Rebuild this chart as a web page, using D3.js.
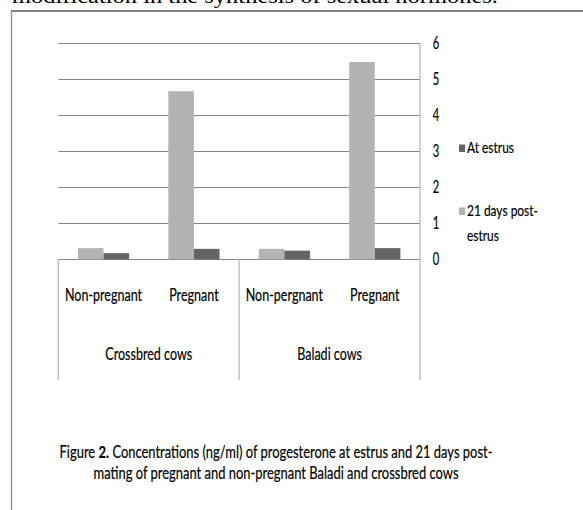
<!DOCTYPE html>
<html>
<head>
<meta charset="utf-8">
<script src="https://cdn.jsdelivr.net/npm/d3@7/dist/d3.min.js"></script>
<style>
  html, body { margin: 0; padding: 0; background: #fff; }
  svg { display: block; }
  text { font-family: Lato, "Open Sans", sans-serif; fill: #000; stroke: #000; stroke-width: 0.2px; }
</style>
</head>
<body>
<svg id="chart" width="583" height="510"></svg>
<script>
// data
const groups = ["Crossbred cows", "Baladi cows"];
const categories = ["Non-pregnant", "Pregnant", "Non-pergnant", "Pregnant"];
const categoryGroup = [0, 0, 1, 1];
const seriesNames = ["21 days post-estrus", "At estrus"];
const postEstrus = [0.31, 4.67, 0.29, 5.48];
const atEstrus = [0.17, 0.29, 0.24, 0.31];
const yTicks = [0, 1, 2, 3, 4, 5, 6];
const captionLines = [
  "Figure 2. Concentrations (ng/ml) of progesterone at estrus and 21 days post-",
  "mating of pregnant and non-pregnant Baladi and crossbred cows"
];
const pageText = "modification in the synthesis of sexual hormones.";

const colors = { "21 days post-estrus": "#b3b3b3", "At estrus": "#646464" };
const SX = 0.76; // horizontal squeeze of the scanned text

const svg = d3.select("#chart");
svg.append("rect").attr("width", 583).attr("height", 510).attr("fill", "#fff");

// cut-off line of body text above the figure frame
svg.append("text")
  .attr("x", 12).attr("y", 2.5)
  .attr("textLength", 486).attr("lengthAdjust", "spacingAndGlyphs")
  .style("font-family", "'Liberation Serif', serif")
  .style("font-size", "21px")
  .style("stroke", "none")
  .text(pageText);

// frame (top + left edges visible)
svg.append("line").attr("x1", 11).attr("x2", 583).attr("y1", 11).attr("y2", 11)
  .attr("stroke", "#7f7f7f").attr("stroke-width", 2);
svg.append("line").attr("x1", 11.5).attr("x2", 11.5).attr("y1", 11).attr("y2", 510)
  .attr("stroke", "#8c8c8c").attr("stroke-width", 1.3);

const plot = { left: 58.3, right: 420, top: 43.3, bottom: 259.3, catBottom: 380 };

const y = d3.scaleLinear().domain([0, 6]).range([plot.bottom, plot.top]);
const x = d3.scaleBand().domain(d3.range(categories.length))
  .range([plot.left, plot.right]).padding(0);
const xs = d3.scaleBand().domain(seriesNames)
  .range([0, x.bandwidth() * 0.566]).padding(0);

const sq = (sel, xx, yy, k = SX) => sel.attr("transform", `translate(${xx},${yy}) scale(${k},1)`);

// gridlines
svg.append("g").selectAll("line").data(yTicks).join("line")
  .attr("x1", plot.left).attr("x2", plot.right)
  .attr("y1", d => Math.round(y(d)) + 0.5).attr("y2", d => Math.round(y(d)) + 0.5)
  .attr("stroke", "#868686").attr("stroke-width", 1);

// right value axis line
svg.append("line").attr("x1", plot.right).attr("x2", plot.right)
  .attr("y1", plot.top).attr("y2", plot.catBottom)
  .attr("stroke", "#b5b5b5").attr("stroke-width", 1.2);

// category separators
const seps = [plot.left, x(2)];
svg.append("g").selectAll("line").data(seps).join("line")
  .attr("x1", d => d).attr("x2", d => d)
  .attr("y1", plot.bottom).attr("y2", plot.catBottom)
  .attr("stroke", "#b5b5b5").attr("stroke-width", 1.2);

// tick labels
svg.append("g").selectAll("text").data(yTicks).join("text")
  .each(function (d) { sq(d3.select(this), 436, y(d) + 5.8, 0.68); })
  .attr("text-anchor", "middle")
  .style("font-size", "16.5px")
  .text(d => d);

// bars
const rows = categories.map((c, i) => ({ i, values: [postEstrus[i], atEstrus[i]] }));
const cat = svg.append("g").selectAll("g").data(rows).join("g")
  .attr("transform", d => `translate(${x(d.i) + (x.bandwidth() - xs.range()[1]) / 2},0)`);
cat.selectAll("rect").data(d => d.values.map((v, k) => ({ k, v }))).join("rect")
  .attr("x", d => xs(seriesNames[d.k]))
  .attr("width", xs.bandwidth())
  .attr("y", d => y(d.v))
  .attr("height", d => y(0) - y(d.v))
  .attr("fill", d => colors[seriesNames[d.k]]);

// category labels
svg.append("g").selectAll("text").data(categories).join("text")
  .each(function (d, i) { sq(d3.select(this), x(i) + x.bandwidth() / 2, 301); })
  .attr("text-anchor", "middle")
  .style("font-size", "16.5px")
  .text(d => d);

// group labels
svg.append("g").selectAll("text").data(groups).join("text")
  .each(function (d, g) {
    const idx = categoryGroup.map((v, i) => v === g ? i : -1).filter(i => i >= 0);
    const cx = (x(idx[0]) + x(idx[idx.length - 1]) + x.bandwidth()) / 2;
    sq(d3.select(this), cx, 360);
  })
  .attr("text-anchor", "middle")
  .style("font-size", "16.5px")
  .text(d => d);

// legend (At estrus listed first)
const legendItems = [
  { name: "At estrus", lines: ["At estrus"], y: 153 },
  { name: "21 days post-estrus", lines: ["21 days post-", "estrus"], y: 216 }
];
const lg = svg.append("g").selectAll("g").data(legendItems).join("g");
lg.append("rect")
  .attr("x", 459).attr("y", d => d.y - 8.5)
  .attr("width", 6).attr("height", 7.5)
  .attr("fill", d => colors[d.name]);
lg.each(function (d) {
  const g = d3.select(this);
  d.lines.forEach((ln, j) => {
    g.append("text")
      .call(s => sq(s, 467, d.y + j * 25, 0.77))
      .style("font-size", "15.5px")
      .text(ln);
  });
});

// caption
const cap = svg.append("g");
captionLines.forEach((ln, j) => {
  const t = cap.append("text")
    .call(s => sq(s, 276, 458 + j * 20.5, 0.74))
    .attr("text-anchor", "middle")
    .style("font-size", "17.5px");
  if (j === 0) {
    t.append("tspan").text("Figure ");
    t.append("tspan").style("font-weight", "bold").text("2.");
    t.append("tspan").text(ln.slice("Figure 2.".length));
  } else {
    t.text(ln);
  }
});
</script>
</body>
</html>
